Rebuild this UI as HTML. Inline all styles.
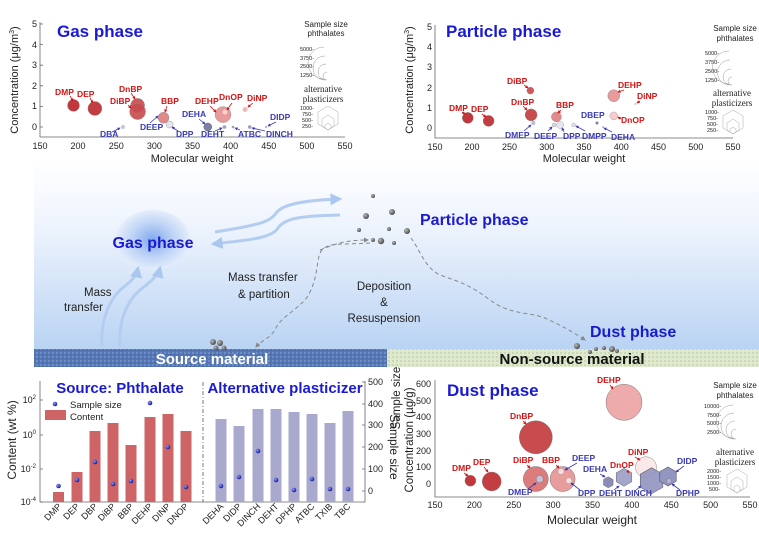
<!DOCTYPE html>
<html><head><meta charset="utf-8"><style>
html,body{margin:0;padding:0;background:#fff;}
svg{display:block;font-family:"Liberation Sans",sans-serif;}
.t{font-size:9px;fill:#222;}
.r{font-size:8.5px;font-weight:bold;fill:#d21414;}
.b{font-size:8.5px;font-weight:bold;fill:#3a3ab4;}
.lr{stroke:#d21414;stroke-width:0.8;fill:none;}
.lb{stroke:#3a3ab4;stroke-width:0.8;fill:none;}
.ax{stroke:#666;stroke-width:0.8;fill:none;}
.title{font-size:17px;font-weight:bold;fill:#1a1ad2;}
.leg{font-size:8px;fill:#222;}
.legs{font-family:"Liberation Serif",serif;font-size:9px;fill:#222;}
.lt{font-size:5.5px;fill:#222;}
.arc{stroke:#999;stroke-width:0.5;fill:none;}
.hx{vector-effect:non-scaling-stroke;}
</style></head><body>
<svg width="759" height="535" viewBox="0 0 759 535" xmlns="http://www.w3.org/2000/svg">
<defs>
<linearGradient id="bg" x1="0" y1="0" x2="0" y2="1">
<stop offset="0" stop-color="#ffffff"/><stop offset="0.35" stop-color="#eef4fd"/><stop offset="1" stop-color="#b9d3f3"/>
</linearGradient>
<radialGradient id="gas" cx="0.5" cy="0.5" r="0.5">
<stop offset="0" stop-color="#7fa9ee"/><stop offset="0.6" stop-color="#c2d6f6"/><stop offset="1" stop-color="#e4edfb"/>
</radialGradient>
<pattern id="blu" width="4" height="4" patternUnits="userSpaceOnUse">
<rect width="4" height="4" fill="#5576b3"/><rect width="2" height="2" fill="#6d8dc6"/><rect x="2" y="2" width="1" height="1" fill="#3f5f9e"/>
</pattern>
<pattern id="grn" width="4" height="4" patternUnits="userSpaceOnUse">
<rect width="4" height="4" fill="#dfe9cf"/><rect width="2" height="2" fill="#c9d9b2"/>
</pattern>
<marker id="ah" viewBox="0 0 10 10" refX="8" refY="5" markerWidth="5" markerHeight="5" orient="auto"><path d="M0,0 L10,5 L0,10 z" fill="#888"/></marker>
<marker id="ahb" viewBox="0 0 10 10" refX="8" refY="5" markerWidth="4" markerHeight="4" orient="auto"><path d="M0,0 L10,5 L0,10 z" fill="#a9c7ef"/></marker>
<marker id="ar" viewBox="0 0 10 10" refX="8" refY="5" markerWidth="4" markerHeight="4" orient="auto"><path d="M0,0 L10,5 L0,10 z" fill="#d21414"/></marker>
<marker id="ab" viewBox="0 0 10 10" refX="8" refY="5" markerWidth="4" markerHeight="4" orient="auto"><path d="M0,0 L10,5 L0,10 z" fill="#3a3ab4"/></marker>
<radialGradient id="pd" cx="0.35" cy="0.35" r="0.7"><stop offset="0" stop-color="#bbb"/><stop offset="1" stop-color="#444"/></radialGradient>
<radialGradient id="bd" cx="0.35" cy="0.35" r="0.7"><stop offset="0" stop-color="#8a9cff"/><stop offset="1" stop-color="#10108a"/></radialGradient>
</defs>

<rect x="34" y="160" width="725" height="190" fill="url(#bg)"/>
<rect x="34" y="349" width="353" height="18" fill="url(#blu)"/>
<rect x="387" y="349" width="372" height="18" fill="url(#grn)"/>
<text x="212" y="364" text-anchor="middle" font-size="15" font-weight="bold" fill="#fff">Source material</text>
<text x="572" y="364" text-anchor="middle" font-size="15" font-weight="bold" fill="#111">Non-source material</text>

<ellipse cx="153" cy="240" rx="37" ry="30" fill="url(#gas)"/>
<text x="153" y="248" text-anchor="middle" font-size="16" font-weight="bold" fill="#1a1ad2">Gas phase</text>
<text x="420" y="225" font-size="16" font-weight="bold" fill="#1a1ad2">Particle phase</text>
<text x="590" y="337" font-size="16" font-weight="bold" fill="#1a1ad2">Dust phase</text>

<path d="M102,346 C100,320 110,300 120,290 C130,282 136,278 138,268" stroke="#b3cdf1" stroke-width="3" fill="none" marker-end="url(#ahb)"/>
<path d="M120,346 C118,320 128,300 140,290 C150,282 158,276 160,268" stroke="#b3cdf1" stroke-width="3" fill="none" marker-end="url(#ahb)"/>
<text x="84" y="296" font-size="11.5" fill="#222">Mass</text>
<text x="64" y="311" font-size="11.5" fill="#222">transfer</text>
<path d="M215,232 C260,225 270,222 277,212 C285,203 310,200 340,199" stroke="#b3cdf1" stroke-width="3" fill="none" marker-end="url(#ahb)"/>
<path d="M340,215 C300,216 285,218 278,228 C272,238 250,240 213,244" stroke="#b3cdf1" stroke-width="3" fill="none" marker-end="url(#ahb)"/>
<text x="228" y="281" font-size="11.5" fill="#222">Mass transfer</text>
<text x="238" y="298" font-size="11.5" fill="#222">&amp; partition</text>
<text x="384" y="290" text-anchor="middle" font-size="11.5" fill="#222">Deposition</text>
<text x="384" y="306" text-anchor="middle" font-size="11.5" fill="#222">&amp;</text>
<text x="384" y="322" text-anchor="middle" font-size="11.5" fill="#222">Resuspension</text>

<path d="M370,243 C340,245 330,242 322,250 C315,258 320,280 305,300 C290,315 280,318 275,330 C270,338 262,340 256,347" stroke="#888" stroke-width="1" stroke-dasharray="4,3" fill="none" marker-end="url(#ah)"/>
<path d="M411,238 C420,250 425,268 440,275 C460,282 470,285 490,300 C510,315 530,312 545,318 C560,325 570,330 585,340" stroke="#888" stroke-width="1" stroke-dasharray="4,3" fill="none" marker-end="url(#ah)"/>
<path d="M320,250 C335,244 345,240 368,240" stroke="#888" stroke-width="1" stroke-dasharray="4,3" fill="none" marker-end="url(#ah)"/>

<g fill="url(#pd)">
<circle cx="373" cy="196" r="2"/><circle cx="366" cy="216" r="3"/><circle cx="392" cy="212" r="3"/><circle cx="359" cy="230" r="2"/>
<circle cx="389" cy="229" r="2"/><circle cx="407" cy="231" r="3"/><circle cx="373" cy="240" r="2"/><circle cx="381" cy="241" r="3.2"/><circle cx="394" cy="243" r="2"/>
<circle cx="213" cy="342" r="3"/><circle cx="220" cy="343" r="3"/><circle cx="216" cy="348" r="2.5"/><circle cx="224" cy="348" r="2.5"/>
<circle cx="577" cy="346" r="3"/><circle cx="590" cy="352" r="2"/><circle cx="596" cy="349" r="2"/><circle cx="604" cy="348" r="2"/><circle cx="612" cy="349" r="3"/><circle cx="617" cy="351" r="2"/>
</g>

<!-- GAS PHASE -->
<g>
<rect x="40" y="24" width="305" height="113" fill="#fff"/>
<path class="ax" d="M40,22 V137 H345"/>
<g class="t" text-anchor="end">
<text x="37" y="27">5</text><text x="37" y="48">4</text><text x="37" y="68">3</text><text x="37" y="89">2</text><text x="37" y="109">1</text><text x="37" y="130">0</text>
</g>
<g class="ax"><path d="M40,24h3M40,44.6h3M40,65.2h3M40,85.8h3M40,106.4h3M40,127h3"/></g>
<g class="t" text-anchor="middle">
<text x="40" y="149">150</text><text x="78" y="149">200</text><text x="116.3" y="149">250</text><text x="154.4" y="149">300</text><text x="192.5" y="149">350</text><text x="230.6" y="149">400</text><text x="268.8" y="149">450</text><text x="306.9" y="149">500</text><text x="345" y="149">550</text>
</g>
<text x="192" y="162" text-anchor="middle" font-size="11" fill="#222">Molecular weight</text>
<text transform="translate(18,80) rotate(-90)" text-anchor="middle" font-size="11" fill="#222">Concentration (μg/m<tspan font-size="7" dy="-4">3</tspan><tspan dy="4">)</tspan></text>
<text x="57" y="37" class="title">Gas phase</text>
<circle cx="73.5" cy="105.4" r="6" fill="#c0383c" stroke="#888" stroke-width="0.4"/>
<circle cx="94.9" cy="108.5" r="7" fill="#c23e42" stroke="#888" stroke-width="0.4"/>
<circle cx="137.6" cy="105.4" r="7" fill="#cf5a5c" stroke="#888" stroke-width="0.4"/>
<circle cx="137.6" cy="111.6" r="8" fill="#c84b4e" stroke="#888" stroke-width="0.4" opacity="0.9"/>
<circle cx="163.5" cy="117.7" r="5.5" fill="#e08a8a" stroke="#888" stroke-width="0.4"/>
<circle cx="169.6" cy="124.5" r="3.5" fill="#e5e6ee" stroke="#888" stroke-width="0.4"/>
<circle cx="123" cy="127" r="2" fill="#c4c6dc"/>
<circle cx="207.8" cy="127" r="4" fill="#7d80a8" stroke="#555" stroke-width="0.4"/>
<circle cx="224.5" cy="127" r="1.8" fill="#9da0c4"/>
<circle cx="223" cy="114.6" r="8" fill="#e99a9a" stroke="#888" stroke-width="0.4"/>
<circle cx="225" cy="112" r="2.5" fill="#f8d4d4"/>
<circle cx="245.1" cy="109.5" r="2.5" fill="#f2b8b8"/>
<circle cx="233" cy="127" r="1.3" fill="#9da0c4"/>
<circle cx="249.7" cy="127" r="1.8" fill="#9da0c4"/>
<circle cx="266" cy="127" r="1" fill="#9da0c4"/>
<text class="r" x="55" y="95">DMP</text><path class="lr" d="M70,96 L73,101" marker-end="url(#ar)"/>
<text class="r" x="77" y="97">DEP</text><path class="lr" d="M90,98 L93,103" marker-end="url(#ar)"/>
<text class="r" x="119" y="92">DnBP</text><path class="lr" d="M131,93 L135,99" marker-end="url(#ar)"/>
<text class="r" x="110" y="104">DiBP</text><path class="lr" d="M128,105 L131,108" marker-end="url(#ar)"/>
<text class="r" x="161" y="104">BBP</text><path class="lr" d="M167,106 L165,112" marker-end="url(#ar)"/>
<text class="b" x="140" y="130">DEEP</text><path class="lb" d="M150,123 L158,116" marker-end="url(#ab)"/>
<text class="b" x="176" y="137">DPP</text><path class="lb" d="M178,131 L172,127" marker-end="url(#ab)"/>
<text class="b" x="100" y="137">DBA</text><path class="lb" d="M112,132 L120,128" marker-end="url(#ab)"/>
<text class="b" x="182" y="117">DEHA</text><path class="lb" d="M199,119 L205,124" marker-end="url(#ab)"/>
<text class="b" x="201" y="137">DEHT</text><path class="lb" d="M215,131 L222,128" marker-end="url(#ab)"/>
<text class="r" x="195" y="104">DEHP</text><path class="lr" d="M210,106 L216,112" marker-end="url(#ar)"/>
<text class="r" x="219" y="100">DnOP</text><path class="lr" d="M232,103 L227,110" marker-end="url(#ar)"/>
<text class="r" x="247" y="101">DiNP</text><path class="lr" d="M253,103 L248,107" marker-end="url(#ar)"/>
<text class="b" x="238" y="137">ATBC</text><path class="lb" d="M240,130 L235,128" marker-end="url(#ab)"/>
<text class="b" x="266" y="137">DINCH</text><path class="lb" d="M265,131 L252,128" marker-end="url(#ab)"/>
<text class="b" x="270" y="120">DIDP</text><path class="lb" d="M276,122 L268,126" marker-end="url(#ab)"/>
<text class="leg" x="326" y="27" text-anchor="middle">Sample size</text>
<text class="leg" x="326" y="36" text-anchor="middle">phthalates</text>
<text class="lt" x="300" y="51">5000-</text><text class="lt" x="300" y="60">3750-</text><text class="lt" x="300" y="68">2500-</text><text class="lt" x="300" y="77">1250-</text>
<path class="arc" d="M324,47 A11,11 0 0 0 324,79"/><path class="arc" d="M325,56 A9,9 0 0 0 325,80"/><path class="arc" d="M326,64 A7,7 0 0 0 326,80"/><path class="arc" d="M327,72 A4,4 0 0 0 327,80"/>
<text class="legs" x="323" y="92" text-anchor="middle" font-size="8">alternative</text>
<text class="legs" x="323" y="102" text-anchor="middle" font-size="8">plasticizers</text>
<text class="lt" x="300" y="110">1000-</text><text class="lt" x="302" y="116">750-</text><text class="lt" x="302" y="122">500-</text><text class="lt" x="302" y="128">250-</text>
<g fill="none" stroke="#aaa" stroke-width="0.5"><polygon points="328,106 338,112 338,124 328,130 318,124 318,112"/><polygon points="328,115 334,119 334,126 328,130 322,126 322,119"/><polygon points="328,123 331,125 331,128 328,130 325,128 325,125"/></g>
</g>

<!-- PARTICLE PHASE -->
<g>
<rect x="435" y="27" width="298" height="111" fill="#fff"/>
<path class="ax" d="M435,25 V138 H733"/>
<g class="t" text-anchor="end">
<text x="432" y="30">5</text><text x="432" y="50">4</text><text x="432" y="70">3</text><text x="432" y="91">2</text><text x="432" y="111">1</text><text x="432" y="131">0</text>
</g>
<g class="t" text-anchor="middle">
<text x="435" y="150">150</text><text x="472" y="150">200</text><text x="509.5" y="150">250</text><text x="546.8" y="150">300</text><text x="584" y="150">350</text><text x="621.3" y="150">400</text><text x="658.5" y="150">450</text><text x="695.8" y="150">500</text><text x="733" y="150">550</text>
</g>
<text x="584" y="162" text-anchor="middle" font-size="11" fill="#222">Molecular weight</text>
<text transform="translate(413,80) rotate(-90)" text-anchor="middle" font-size="11" fill="#222">Concentration (μg/m<tspan font-size="7" dy="-4">3</tspan><tspan dy="4">)</tspan></text>
<text x="446" y="37" class="title">Particle phase</text>
<circle cx="467.8" cy="117.9" r="5.5" fill="#c0383c" stroke="#888" stroke-width="0.4"/>
<circle cx="488.6" cy="120.9" r="5.5" fill="#c23e42" stroke="#888" stroke-width="0.4"/>
<circle cx="530.4" cy="90.6" r="3.5" fill="#cf5a5c" stroke="#888" stroke-width="0.4"/>
<circle cx="531.1" cy="114.9" r="6" fill="#c84b4e" stroke="#888" stroke-width="0.4"/>
<circle cx="556.4" cy="116.9" r="5" fill="#e08a8a" stroke="#888" stroke-width="0.4"/>
<circle cx="533.3" cy="123" r="2" fill="#b8bbd4"/>
<circle cx="554.2" cy="125" r="2" fill="#d4d6e6" stroke="#999" stroke-width="0.3"/>
<circle cx="560.2" cy="125" r="3.5" fill="#e5e6ee" stroke="#999" stroke-width="0.4"/>
<circle cx="573.6" cy="125" r="2" fill="#dfe0ec" stroke="#999" stroke-width="0.3"/>
<circle cx="597" cy="123" r="1.5" fill="#7d80a8"/>
<circle cx="603" cy="127" r="0.8" fill="#7d80a8"/>
<circle cx="613.8" cy="95.7" r="6" fill="#e99a9a" stroke="#888" stroke-width="0.4"/>
<circle cx="613.8" cy="115.9" r="4" fill="#f5cccc" stroke="#999" stroke-width="0.4"/>
<circle cx="635.4" cy="104" r="1" fill="#f2b8b8"/>
<text class="r" x="449" y="111">DMP</text><path class="lr" d="M462,112 L465,114" marker-end="url(#ar)"/>
<text class="r" x="471" y="112">DEP</text><path class="lr" d="M482,114 L486,117" marker-end="url(#ar)"/>
<text class="r" x="507" y="84">DiBP</text><path class="lr" d="M524,85 L528,88" marker-end="url(#ar)"/>
<text class="r" x="511" y="105">DnBP</text><path class="lr" d="M523,106 L527,110" marker-end="url(#ar)"/>
<text class="r" x="556" y="108">BBP</text><path class="lr" d="M561,110 L558,113" marker-end="url(#ar)"/>
<text class="b" x="505" y="138">DMEP</text><path class="lb" d="M524,131 L531,125" marker-end="url(#ab)"/>
<text class="b" x="534" y="139">DEEP</text><path class="lb" d="M548,131 L552,127" marker-end="url(#ab)"/>
<text class="b" x="563" y="139">DPP</text><path class="lb" d="M564,132 L562,128" marker-end="url(#ab)"/>
<text class="b" x="582" y="139">DMPP</text><path class="lb" d="M585,131 L576,126" marker-end="url(#ab)"/>
<text class="b" x="581" y="118">DBEP</text>
<text class="b" x="611" y="140">DEHA</text><path class="lb" d="M612,132 L604,128" marker-end="url(#ab)"/>
<text class="r" x="618" y="88">DEHP</text><path class="lr" d="M624,90 L618,92" marker-end="url(#ar)"/>
<text class="r" x="637" y="99">DiNP</text><path class="lr" d="M640,101 L637,103" marker-end="url(#ar)"/>
<text class="r" x="621" y="123">DnOP</text><path class="lr" d="M621,119 L618,117" marker-end="url(#ar)"/>
<text class="leg" x="735" y="31" text-anchor="middle">Sample size</text>
<text class="leg" x="735" y="41" text-anchor="middle">phthalates</text>
<text class="lt" x="705" y="55">5000-</text><text class="lt" x="705" y="64">3750-</text><text class="lt" x="705" y="73">2500-</text><text class="lt" x="705" y="82">1250-</text>
<path class="arc" d="M729,51 A11,11 0 0 0 729,84"/><path class="arc" d="M730,60 A9,9 0 0 0 730,85"/><path class="arc" d="M731,69 A7,7 0 0 0 731,85"/><path class="arc" d="M732,77 A4,4 0 0 0 732,85"/>
<text class="legs" x="732" y="96" text-anchor="middle" font-size="8">alternative</text>
<text class="legs" x="732" y="106" text-anchor="middle" font-size="8">plasticizers</text>
<text class="lt" x="705" y="114">1000-</text><text class="lt" x="707" y="120">750-</text><text class="lt" x="707" y="126">500-</text><text class="lt" x="707" y="132">250-</text>
<g fill="none" stroke="#aaa" stroke-width="0.5"><polygon points="733,110 743,116 743,128 733,134 723,128 723,116"/><polygon points="733,119 739,123 739,130 733,134 727,130 727,123"/><polygon points="733,127 736,129 736,132 733,134 730,132 730,129"/></g>
</g>

<!-- BAR CHART -->
<g>
<path class="ax" d="M40,381 V502 H365 V381"/>
<g class="ax"><path d="M40,400h3M40,435h3M40,469h3M40,502h3M365,491h-3M365,469h-3M365,447h-3M365,425h-3M365,404h-3M365,382h-3"/></g>
<g class="t" text-anchor="end">
<text x="36" y="403">10<tspan font-size="6" dy="-4">2</tspan></text>
<text x="36" y="438">10<tspan font-size="6" dy="-4">0</tspan></text>
<text x="36" y="472">10<tspan font-size="6" dy="-4">-2</tspan></text>
<text x="36" y="505">10<tspan font-size="6" dy="-4">-4</tspan></text>
</g>
<g class="t">
<text x="368" y="385">500</text><text x="368" y="407">400</text><text x="368" y="428">300</text><text x="368" y="450">200</text><text x="368" y="472">100</text><text x="368" y="494">0</text>
</g>
<text transform="translate(16,440) rotate(-90)" text-anchor="middle" font-size="12" fill="#222">Content (wt %)</text>
<text transform="translate(390,447) rotate(90)" text-anchor="middle" font-size="12" fill="#222">Sample size</text>
<path d="M203,382 V502" stroke="#555" stroke-width="0.8" stroke-dasharray="4,2,1,2"/>
<g fill="#cf6466">
<rect x="53" y="492" width="11" height="10"/><rect x="71.5" y="472" width="11" height="30"/><rect x="89.5" y="431" width="11" height="71"/><rect x="107.5" y="423" width="11" height="79"/>
<rect x="125.5" y="445" width="11" height="57"/><rect x="144.5" y="417" width="11" height="85"/><rect x="162.5" y="414" width="11" height="88"/><rect x="180.5" y="431" width="11" height="71"/>
</g>
<g fill="#a8a9cc">
<rect x="215.5" y="419" width="11" height="83"/><rect x="233.5" y="426" width="11" height="76"/><rect x="252.5" y="409" width="11" height="93"/><rect x="270.5" y="409" width="11" height="93"/>
<rect x="288.5" y="412" width="11" height="90"/><rect x="306.5" y="414" width="11" height="88"/><rect x="324.5" y="423" width="11" height="79"/><rect x="342.5" y="411" width="11" height="91"/>
</g>
<g fill="url(#bd)">
<circle cx="58.5" cy="486" r="2.3"/><circle cx="77" cy="480" r="2.3"/><circle cx="95" cy="462" r="2.3"/><circle cx="113" cy="484" r="2.3"/>
<circle cx="131" cy="481" r="2.3"/><circle cx="150" cy="403" r="2.3"/><circle cx="168" cy="447" r="2.3"/><circle cx="186" cy="487" r="2.3"/>
<circle cx="221" cy="486" r="2.3"/><circle cx="239" cy="477" r="2.3"/><circle cx="258" cy="451" r="2.3"/><circle cx="276" cy="480" r="2.3"/>
<circle cx="294" cy="490" r="2.3"/><circle cx="312" cy="479" r="2.3"/><circle cx="330" cy="489" r="2.3"/><circle cx="348" cy="489" r="2.3"/>
<circle cx="55" cy="404" r="2.3"/>
</g>
<rect x="45" y="410" width="21" height="10" fill="#cf6466"/>
<text x="70" y="408" font-size="9.5" fill="#222">Sample size</text>
<text x="70" y="420" font-size="9.5" fill="#222">Content</text>
<text x="120" y="393" text-anchor="middle" font-size="15" font-weight="bold" fill="#1a1ad2">Source: Phthalate</text>
<text x="285" y="393" text-anchor="middle" font-size="15" font-weight="bold" fill="#1a1ad2">Alternative plasticizer</text>
<g class="t" text-anchor="end" font-size="9">
<text transform="translate(62,507) rotate(-45)">DMP</text><text transform="translate(80,507) rotate(-45)">DEP</text><text transform="translate(98,507) rotate(-45)">DBP</text><text transform="translate(116,507) rotate(-45)">DiBP</text>
<text transform="translate(134,507) rotate(-45)">BBP</text><text transform="translate(153,507) rotate(-45)">DEHP</text><text transform="translate(171,507) rotate(-45)">DINP</text><text transform="translate(189,507) rotate(-45)">DNOP</text>
<text transform="translate(224,507) rotate(-45)">DEHA</text><text transform="translate(242,507) rotate(-45)">DIDP</text><text transform="translate(261,507) rotate(-45)">DINCH</text><text transform="translate(279,507) rotate(-45)">DEHT</text>
<text transform="translate(297,507) rotate(-45)">DPHP</text><text transform="translate(315,507) rotate(-45)">ATBC</text><text transform="translate(333,507) rotate(-45)">TXIB</text><text transform="translate(351,507) rotate(-45)">TBC</text>
</g>
</g>

<!-- DUST PHASE -->
<g>
<path class="ax" d="M435,380 V497 H750"/>
<g class="t" text-anchor="end">
<text x="431" y="387">600</text><text x="431" y="404">500</text><text x="431" y="420">400</text><text x="431" y="437">300</text><text x="431" y="454">200</text><text x="431" y="470">100</text><text x="431" y="487">0</text>
</g>
<g class="t" text-anchor="middle">
<text x="435" y="508">150</text><text x="474.4" y="508">200</text><text x="513.8" y="508">250</text><text x="553.1" y="508">300</text><text x="592.5" y="508">350</text><text x="631.9" y="508">400</text><text x="671.3" y="508">450</text><text x="710.6" y="508">500</text><text x="750" y="508">550</text>
</g>
<text x="592" y="524" text-anchor="middle" font-size="12" fill="#222">Molecular weight</text>
<text transform="translate(413,440) rotate(-90)" text-anchor="middle" font-size="11.5" fill="#222">Concentration (µg/g)</text>
<text transform="translate(400,398) rotate(-90)" text-anchor="middle" font-size="11.5" fill="#222">Sample size</text>
<text x="447" y="396" class="title">Dust phase</text>
<circle cx="470.4" cy="480.7" r="5.5" fill="#c0383c" stroke="#888" stroke-width="0.4"/>
<circle cx="491.7" cy="481.5" r="9.5" fill="#c23e42" stroke="#888" stroke-width="0.4"/>
<circle cx="535.8" cy="437.3" r="16.5" fill="#c84b4e" stroke="#777" stroke-width="0.5"/>
<circle cx="624" cy="402.3" r="18" fill="#eeabab" stroke="#777" stroke-width="0.5"/>
<circle cx="535.8" cy="479" r="12.5" fill="#dd7c7c" stroke="#777" stroke-width="0.5"/>
<polygon class="hx" transform="translate(539.7,479) scale(4)" points="0,-1 0.866,-0.5 0.866,0.5 0,1 -0.866,0.5 -0.866,-0.5" fill="#c8c0d8" stroke="#777" stroke-width="0.5"/>
<circle cx="562.6" cy="479" r="12.5" fill="#e89c9c" stroke="#777" stroke-width="0.5"/>
<circle cx="561" cy="471.5" r="3" fill="#f4dede" stroke="#999" stroke-width="0.4"/>
<circle cx="568.9" cy="480.7" r="3" fill="#f4dede" stroke="#999" stroke-width="0.4"/>
<polygon class="hx" transform="translate(608.3,482.3) scale(5.5)" points="0,-1 0.866,-0.5 0.866,0.5 0,1 -0.866,0.5 -0.866,-0.5" fill="#8a8cb8" stroke="#666" stroke-width="0.5"/>
<polygon class="hx" transform="translate(624,477.3) scale(9)" points="0,-1 0.866,-0.5 0.866,0.5 0,1 -0.866,0.5 -0.866,-0.5" fill="#a4a6cc" stroke="#666" stroke-width="0.5"/>
<circle cx="646" cy="467.3" r="10.5" fill="#fbe8e8" stroke="#888" stroke-width="0.5"/>
<polygon class="hx" transform="translate(651.6,480.7) scale(13)" points="0,-1 0.866,-0.5 0.866,0.5 0,1 -0.866,0.5 -0.866,-0.5" fill="#9496c2" stroke="#555" stroke-width="0.6" opacity="0.92"/>
<polygon class="hx" transform="translate(668,476.5) scale(9.5)" points="0,-1 0.866,-0.5 0.866,0.5 0,1 -0.866,0.5 -0.866,-0.5" fill="#9496c2" stroke="#555" stroke-width="0.6"/>
<polygon class="hx" transform="translate(669,481) scale(3)" points="0,-1 0.866,-0.5 0.866,0.5 0,1 -0.866,0.5 -0.866,-0.5" fill="#b0b2d4" stroke="#666" stroke-width="0.4"/>
<text class="r" x="452" y="471">DMP</text><path class="lr" d="M464,473 L468,476" marker-end="url(#ar)"/>
<text class="r" x="473" y="465">DEP</text><path class="lr" d="M484,467 L488,472" marker-end="url(#ar)"/>
<text class="r" x="510" y="419">DnBP</text><path class="lr" d="M523,421 L526,424" marker-end="url(#ar)"/>
<text class="r" x="597" y="383">DEHP</text><path class="lr" d="M610,385 L613,389" marker-end="url(#ar)"/>
<text class="r" x="513" y="463">DiBP</text><path class="lr" d="M527,465 L530,468" marker-end="url(#ar)"/>
<text class="r" x="542" y="463">BBP</text><path class="lr" d="M556,465 L559,468" marker-end="url(#ar)"/>
<text class="b" x="572" y="461">DEEP</text><path class="lb" d="M577,463 L565,470" marker-end="url(#ab)"/>
<text class="b" x="583" y="472">DEHA</text><path class="lb" d="M600,474 L605,477" marker-end="url(#ab)"/>
<text class="r" x="610" y="468">DnOP</text><path class="lr" d="M627,470 L629,473" marker-end="url(#ar)"/>
<text class="r" x="628" y="455">DiNP</text><path class="lr" d="M635,457 L640,460" marker-end="url(#ar)"/>
<text class="b" x="677" y="464">DIDP</text><path class="lb" d="M684,466 L676,472" marker-end="url(#ab)"/>
<text class="b" x="508" y="495">DMEP</text><path class="lb" d="M528,489 L536,483" marker-end="url(#ab)"/>
<text class="b" x="578" y="496">DPP</text><path class="lb" d="M580,490 L571,483" marker-end="url(#ab)"/>
<text class="b" x="599" y="496">DEHT</text><path class="lb" d="M614,490 L619,486" marker-end="url(#ab)"/>
<text class="b" x="625" y="496">DINCH</text><path class="lb" d="M636,490 L641,486" marker-end="url(#ab)"/>
<text class="b" x="676" y="496">DPHP</text><path class="lb" d="M680,490 L672,484" marker-end="url(#ab)"/>
<text class="leg" x="735" y="388" text-anchor="middle">Sample size</text>
<text class="leg" x="735" y="398" text-anchor="middle">phthalates</text>
<text class="lt" x="704" y="408">10000-</text><text class="lt" x="707" y="417">7500-</text><text class="lt" x="707" y="425">5000-</text><text class="lt" x="707" y="434">2500-</text>
<path class="arc" d="M733,405 A12,12 0 0 0 733,438"/><path class="arc" d="M734,413 A10,10 0 0 0 734,439"/><path class="arc" d="M735,421 A8,8 0 0 0 735,439"/><path class="arc" d="M736,429 A5,5 0 0 0 736,439"/>
<text class="legs" x="735" y="455" text-anchor="middle" font-size="8">alternative</text>
<text class="legs" x="735" y="465" text-anchor="middle" font-size="8">plasticizers</text>
<text class="lt" x="707" y="473">2000-</text><text class="lt" x="707" y="479">1500-</text><text class="lt" x="707" y="485">1000-</text><text class="lt" x="709" y="491">500-</text>
<g fill="none" stroke="#aaa" stroke-width="0.5"><polygon points="737,469 747,475 747,487 737,493 727,487 727,475"/><polygon points="737,477 743,481 743,489 737,493 731,489 731,481"/><polygon points="737,485 740,487 740,491 737,493 734,491 734,487"/></g>
</g>
</svg>
</body></html>
